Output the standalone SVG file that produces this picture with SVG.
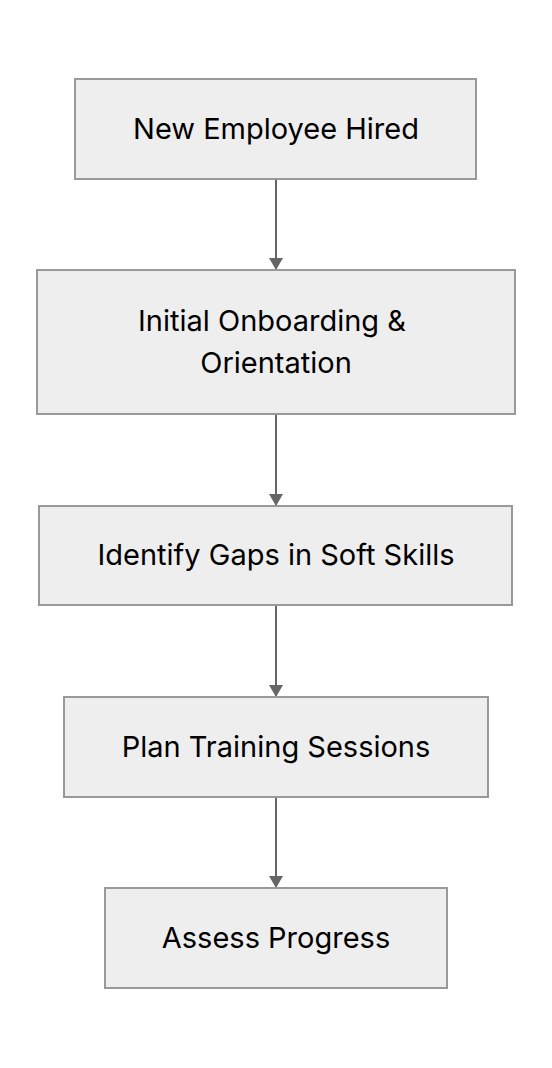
<svg xmlns="http://www.w3.org/2000/svg" width="552" height="1068" viewBox="0 0 552 1068">
<style>
.n{fill:#eeeeee;stroke:#999999;stroke-width:2}
.t{font-family:Inter,"Noto Sans",sans-serif;font-size:29px;fill:#000;text-anchor:middle;dominant-baseline:central}
.e{stroke:#666666;stroke-width:2;fill:none}
</style>
<defs>
<marker id="ah" viewBox="0 0 12 14" refX="12" refY="7" markerWidth="12" markerHeight="14" markerUnits="userSpaceOnUse" orient="auto">
<path d="M0,0 L12,7 L0,14 z" fill="#666666"/>
</marker>
</defs>
<rect width="552" height="1068" fill="#ffffff"/>
<g id="connectors">
<line class="e" x1="276" y1="180" x2="276" y2="270" marker-end="url(#ah)"/>
<line class="e" x1="276" y1="415" x2="276" y2="506" marker-end="url(#ah)"/>
<line class="e" x1="276" y1="606" x2="276" y2="697" marker-end="url(#ah)"/>
<line class="e" x1="276" y1="798" x2="276" y2="888" marker-end="url(#ah)"/>
</g>
<g id="n1"><rect class="n" x="75" y="79" width="401" height="100"/><text class="t" x="276" y="128">New Employee Hired</text></g>
<g id="n2"><rect class="n" x="37" y="270" width="478" height="144"/><text class="t" x="272" y="320">Initial Onboarding &amp;</text><text class="t" x="276" y="362">Orientation</text></g>
<g id="n3"><rect class="n" x="39" y="506" width="473" height="99"/><text class="t" x="276" y="554">Identify Gaps in Soft Skills</text></g>
<g id="n4"><rect class="n" x="64" y="697" width="424" height="100"/><text class="t" x="276" y="746">Plan Training Sessions</text></g>
<g id="n5"><rect class="n" x="105" y="888" width="342" height="100"/><text class="t" x="276" y="937">Assess Progress</text></g>
</svg>
